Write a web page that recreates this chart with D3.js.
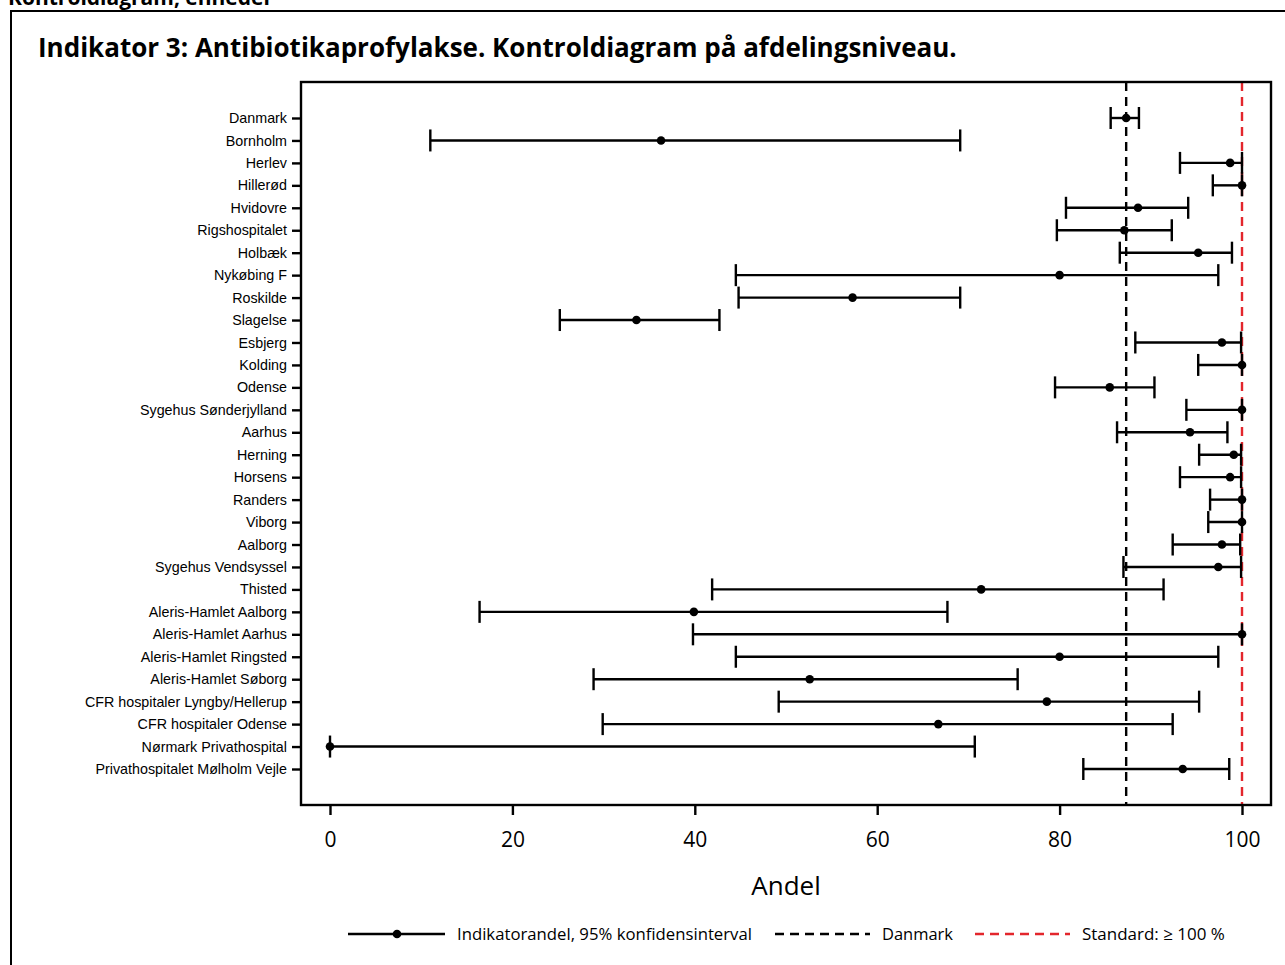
<!DOCTYPE html>
<html>
<head>
<meta charset="utf-8">
<script src="https://cdn.jsdelivr.net/npm/d3@7"></script>
<style>
  html, body { margin: 0; padding: 0; background: #fff; }
  svg { display: block; }
</style>
</head>
<body>
<svg id="chart" width="1285" height="965"></svg>
<script>
const categories = [
  "Danmark", "Bornholm", "Herlev", "Hillerød", "Hvidovre", "Rigshospitalet",
  "Holbæk", "Nykøbing F", "Roskilde", "Slagelse", "Esbjerg", "Kolding",
  "Odense", "Sygehus Sønderjylland", "Aarhus", "Herning", "Horsens", "Randers",
  "Viborg", "Aalborg", "Sygehus Vendsyssel", "Thisted", "Aleris-Hamlet Aalborg",
  "Aleris-Hamlet Aarhus", "Aleris-Hamlet Ringsted", "Aleris-Hamlet Søborg",
  "CFR hospitaler Lyngby/Hellerup", "CFR hospitaler Odense",
  "Nørmark Privathospital", "Privathospitalet Mølholm Vejle"
];
const andel = [87.3, 36.3, 98.7, 100, 88.6, 87.1, 95.2, 80.0, 57.3, 33.6, 97.8, 100,
  85.5, 100, 94.3, 99.1, 98.7, 100, 100, 97.8, 97.4, 71.4, 39.9, 100, 80.0, 52.6,
  78.6, 66.7, 0, 93.5];
const lower = [85.6, 11.0, 93.2, 96.8, 80.7, 79.7, 86.6, 44.5, 44.8, 25.2, 88.3, 95.2,
  79.5, 93.9, 86.3, 95.3, 93.2, 96.5, 96.3, 92.4, 87.0, 41.9, 16.4, 39.8, 44.5, 28.9,
  49.2, 29.9, 0, 82.6];
const upper = [88.7, 69.1, 100, 100, 94.1, 92.3, 98.9, 97.4, 69.1, 42.7, 99.9, 100,
  90.4, 100, 98.4, 99.9, 99.9, 100, 100, 99.8, 99.9, 91.4, 67.7, 100, 97.4, 75.4,
  95.3, 92.4, 70.7, 98.6];
const xTicks = [0, 20, 40, 60, 80, 100];
const danmarkValue = 87.3;
const standardValue = 100;
const legendLabels = ["Indikatorandel, 95% konfidensinterval", "Danmark", "Standard: \u2265 100 %"];

const svg = d3.select("#chart");
const plot = { left: 301, right: 1271, top: 82, bottom: 805 };
const x = d3.scaleLinear().domain([0, 100]).range([330, 1242]);
const y = d3.scalePoint().domain(categories).range([118, 769]);
const red = "#e3262c";
const sw = 2.4;

// top cut-off heading
svg.append("text").attr("x", 8).attr("y", 5)
  .attr("font-family", "Open Sans, sans-serif").attr("font-weight", "bold")
  .attr("font-size", 21).text("Kontroldiagram, enheder");

// outer frame
svg.append("path").attr("d", "M11,965 V11 H1285").attr("fill", "none")
  .attr("stroke", "#000").attr("stroke-width", 2);

// title
const title = svg.append("text").attr("x", 38).attr("y", 57)
  .attr("font-family", "Open Sans, sans-serif").attr("font-weight", "bold")
  .attr("font-size", 24).text("Indikator 3: Antibiotikaprofylakse. Kontroldiagram på afdelingsniveau.");
(function fit(){ const w = title.node().getComputedTextLength(); title.attr("font-size", 24 * 919 / w); })();

// reference lines
svg.append("line").attr("x1", x(danmarkValue)).attr("x2", x(danmarkValue))
  .attr("y1", plot.top).attr("y2", plot.bottom)
  .attr("stroke", "#000").attr("stroke-width", sw).attr("stroke-dasharray", "9,6");
svg.append("line").attr("x1", x(standardValue)).attr("x2", x(standardValue))
  .attr("y1", plot.top).attr("y2", plot.bottom)
  .attr("stroke", red).attr("stroke-width", sw).attr("stroke-dasharray", "9,6");

// error bars
const g = svg.append("g");
categories.forEach((c, i) => {
  const yy = y(c);
  g.append("line").attr("x1", x(lower[i])).attr("x2", x(upper[i])).attr("y1", yy).attr("y2", yy)
    .attr("stroke", "#000").attr("stroke-width", sw);
  [lower[i], upper[i]].forEach(v => {
    g.append("line").attr("x1", x(v)).attr("x2", x(v)).attr("y1", yy - 11).attr("y2", yy + 11)
      .attr("stroke", "#000").attr("stroke-width", sw);
  });
  g.append("circle").attr("cx", x(andel[i])).attr("cy", yy).attr("r", 4.3).attr("fill", "#000");
});

// frame
svg.append("rect").attr("x", plot.left).attr("y", plot.top)
  .attr("width", plot.right - plot.left).attr("height", plot.bottom - plot.top)
  .attr("fill", "none").attr("stroke", "#000").attr("stroke-width", sw);

// y axis
const yAxis = svg.append("g").attr("transform", `translate(${plot.left},0)`)
  .call(d3.axisLeft(y).tickSize(9).tickPadding(5));
yAxis.select(".domain").remove();
yAxis.selectAll(".tick line").attr("stroke-width", sw);
yAxis.selectAll(".tick text").attr("font-family", "Liberation Sans, Arial, sans-serif")
  .attr("font-size", 14.3).attr("fill", "#000");

// x axis
const xAxis = svg.append("g").attr("transform", `translate(0,${plot.bottom})`)
  .call(d3.axisBottom(x).tickValues(xTicks).tickSize(10).tickPadding(17).tickFormat(d3.format("d")));
xAxis.select(".domain").remove();
xAxis.selectAll(".tick line").attr("stroke-width", sw);
xAxis.selectAll(".tick text").attr("font-family", "Open Sans, sans-serif")
  .attr("font-size", 21).attr("fill", "#000");

svg.append("text").attr("x", 786).attr("y", 895).attr("text-anchor", "middle")
  .attr("font-family", "Open Sans, sans-serif").attr("font-size", 26).text("Andel");

// legend
const ly = 934;
const lf = "Open Sans, sans-serif";
svg.append("line").attr("x1", 348).attr("x2", 445).attr("y1", ly).attr("y2", ly)
  .attr("stroke", "#000").attr("stroke-width", sw);
svg.append("circle").attr("cx", 397).attr("cy", ly).attr("r", 4.3).attr("fill", "#000");
const lt = [[457, 752], [882, 953], [1082, 1225]];
svg.append("line").attr("x1", 775).attr("x2", 870).attr("y1", ly).attr("y2", ly)
  .attr("stroke", "#000").attr("stroke-width", sw).attr("stroke-dasharray", "9,6");
svg.append("line").attr("x1", 975).attr("x2", 1070).attr("y1", ly).attr("y2", ly)
  .attr("stroke", red).attr("stroke-width", sw).attr("stroke-dasharray", "9,6");
legendLabels.forEach((t, i) => {
  const el = svg.append("text").attr("x", lt[i][0]).attr("y", ly + 6)
    .attr("font-family", lf).attr("font-size", 16).text(t);
  const w = el.node().getComputedTextLength();
  el.attr("font-size", 16 * (lt[i][1] - lt[i][0]) / w);
});
</script>
</body>
</html>
